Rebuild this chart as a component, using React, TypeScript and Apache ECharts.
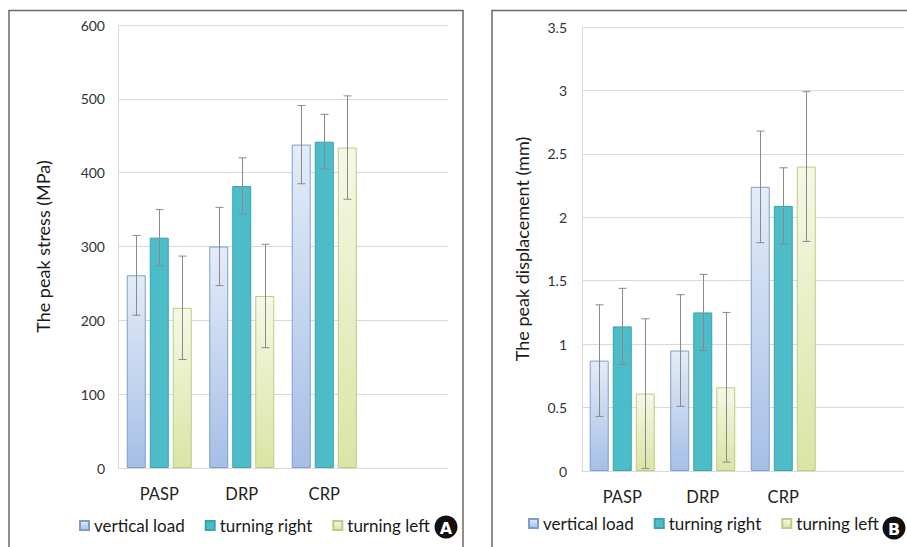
import React, { useEffect, useRef } from "react";
import * as echarts from "echarts";

const categories = ["PASP", "DRP", "CRP", ""];
const seriesNames = ["vertical load", "turning right", "turning left"];

// Panel A: peak stress (MPa)
const stressVertical = [261, 300, 438];
const stressVerticalErr = [54, 53, 53];
const stressRight = [312, 382, 442];
const stressRightErr = [38, 38, 37];
const stressLeft = [217, 233, 434];
const stressLeftErr = [70, 70, 70];

// Panel B: peak displacement (mm)
const dispVertical = [0.87, 0.95, 2.24];
const dispVerticalErr = [0.44, 0.44, 0.44];
const dispRight = [1.14, 1.25, 2.09];
const dispRightErr = [0.3, 0.3, 0.3];
const dispLeft = [0.61, 0.66, 2.4];
const dispLeftErr = [0.59, 0.59, 0.59];

const FONT = "Lato, 'Open Sans', sans-serif";
const BAR_W = 19;
const BAR_GAP = 4;

const styles = [
  {
    color: new echarts.graphic.LinearGradient(0, 0, 0, 1, [
      { offset: 0, color: "#e4ecf8" },
      { offset: 1, color: "#a6bfe6" },
    ]),
    borderColor: "#7c9ed1",
    borderWidth: 1,
  },
  { color: "#4bbcc8", borderColor: "#3aa3ae", borderWidth: 1 },
  {
    color: new echarts.graphic.LinearGradient(0, 0, 0, 1, [
      { offset: 0, color: "#f5f8e6" },
      { offset: 1, color: "#dae5a4" },
    ]),
    borderColor: "#bccb85",
    borderWidth: 1,
  },
];

function errData(vals: number[], errs: number[]) {
  return vals.map((v, i) => [i, v - errs[i], v + errs[i]]);
}

function errSeries(vals: number[], errs: number[], idx: number, axis: number) {
  const offset = (idx - 1) * (BAR_W + BAR_GAP);
  return {
    type: "custom",
    xAxisIndex: axis,
    yAxisIndex: axis,
    z: 5,
    silent: true,
    data: errData(vals, errs),
    renderItem: (params: any, api: any) => {
      const x = api.value(0);
      const lo = api.coord([x, api.value(1)]);
      const hi = api.coord([x, api.value(2)]);
      const cx = Math.round(lo[0] + offset) + 0.5;
      const st = { stroke: "#8a8a8a", lineWidth: 1 };
      return {
        type: "group",
        children: [
          { type: "line", shape: { x1: cx, y1: hi[1], x2: cx, y2: lo[1] }, style: st },
          { type: "line", shape: { x1: cx - 4, y1: hi[1], x2: cx + 4, y2: hi[1] }, style: st },
          { type: "line", shape: { x1: cx - 4, y1: lo[1], x2: cx + 4, y2: lo[1] }, style: st },
        ],
      };
    },
  };
}

function barSeries(vals: number[], idx: number, axis: number) {
  return {
    type: "bar",
    name: seriesNames[idx],
    xAxisIndex: axis,
    yAxisIndex: axis,
    barWidth: BAR_W,
    barGap: ((BAR_GAP / BAR_W) * 100).toFixed(1) + "%",
    itemStyle: styles[idx],
    data: vals,
  };
}

export default function App() {
  const ref = useRef<HTMLDivElement>(null);
  useEffect(() => {
    document.body.style.margin = "0";
    const chart = echarts.init(ref.current!, null, { renderer: "svg" });
    const xAxisBase = {
      type: "category",
      data: categories,
      axisTick: { show: false },
      axisLine: { show: true, lineStyle: { color: "#d9d9d9" } },
      axisLabel: { color: "#222", fontSize: 16.5, fontFamily: FONT, margin: 17 },
    };
    const yAxisBase = {
      type: "value",
      nameLocation: "middle",
      nameRotate: 90,
      nameTextStyle: { color: "#1a1a1a", fontSize: 18, fontFamily: FONT },
      axisLine: { show: true, lineStyle: { color: "#d9d9d9" } },
      axisTick: { show: false },
      splitLine: { lineStyle: { color: "#d9d9d9" } },
      axisLabel: { color: "#333", fontSize: 14, fontFamily: FONT },
    };
    const legendBase = {
      icon: "rect",
      itemWidth: 9,
      itemHeight: 9,
      itemGap: 20,
      data: seriesNames,
      textStyle: { color: "#1a1a1a", fontSize: 17, fontFamily: FONT },
    };
    chart.setOption({
      animation: false,
      backgroundColor: "#fff",
      grid: [
        { left: 118, top: 25, width: 330, height: 443 },
        { left: 582, top: 27, width: 322, height: 444 },
      ],
      xAxis: [
        { ...xAxisBase, gridIndex: 0 },
        { ...xAxisBase, gridIndex: 1 },
      ],
      yAxis: [
        {
          ...yAxisBase,
          gridIndex: 0,
          min: 0,
          max: 600,
          interval: 100,
          name: "The peak stress (MPa)",
          nameGap: 66,
          axisLabel: { ...yAxisBase.axisLabel, margin: 13 },
        },
        {
          ...yAxisBase,
          gridIndex: 1,
          min: 0,
          max: 3.5,
          interval: 0.5,
          name: "The peak displacement (mm)",
          nameGap: 51,
          axisLabel: { ...yAxisBase.axisLabel, margin: 15 },
        },
      ],
      legend: [
        { ...legendBase, left: 74, top: 512 },
        { ...legendBase, left: 523, top: 510 },
      ],
      graphic: [
        {
          type: "rect",
          shape: { x: 9, y: 10.5, width: 454, height: 560 },
          style: { fill: "none", stroke: "#6e6862", lineWidth: 1.5 },
        },
        {
          type: "rect",
          shape: { x: 492, y: 10.5, width: 430, height: 560 },
          style: { fill: "none", stroke: "#6e6862", lineWidth: 1.5 },
        },
        { type: "circle", shape: { cx: 446, cy: 527, r: 11.5 }, style: { fill: "#111" } },
        {
          type: "text",
          x: 446,
          y: 528,
          style: {
            text: "A",
            fill: "#fff",
            fontSize: 16,
            fontWeight: "bold",
            fontFamily: "'DejaVu Sans', sans-serif",
            align: "center",
            verticalAlign: "middle",
          },
        },
        { type: "circle", shape: { cx: 894, cy: 528, r: 11.5 }, style: { fill: "#111" } },
        {
          type: "text",
          x: 894,
          y: 529,
          style: {
            text: "B",
            fill: "#fff",
            fontSize: 16,
            fontWeight: "bold",
            fontFamily: "'DejaVu Sans', sans-serif",
            align: "center",
            verticalAlign: "middle",
          },
        },
      ],
      series: [
        barSeries(stressVertical, 0, 0),
        barSeries(stressRight, 1, 0),
        barSeries(stressLeft, 2, 0),
        barSeries(dispVertical, 0, 1),
        barSeries(dispRight, 1, 1),
        barSeries(dispLeft, 2, 1),
        errSeries(stressVertical, stressVerticalErr, 0, 0),
        errSeries(stressRight, stressRightErr, 1, 0),
        errSeries(stressLeft, stressLeftErr, 2, 0),
        errSeries(dispVertical, dispVerticalErr, 0, 1),
        errSeries(dispRight, dispRightErr, 1, 1),
        errSeries(dispLeft, dispLeftErr, 2, 1),
      ],
    });
    return () => chart.dispose();
  }, []);
  return (
    <div
      ref={ref}
      style={{ position: "fixed", left: 0, top: 0, width: 907, height: 547 }}
    />
  );
}
